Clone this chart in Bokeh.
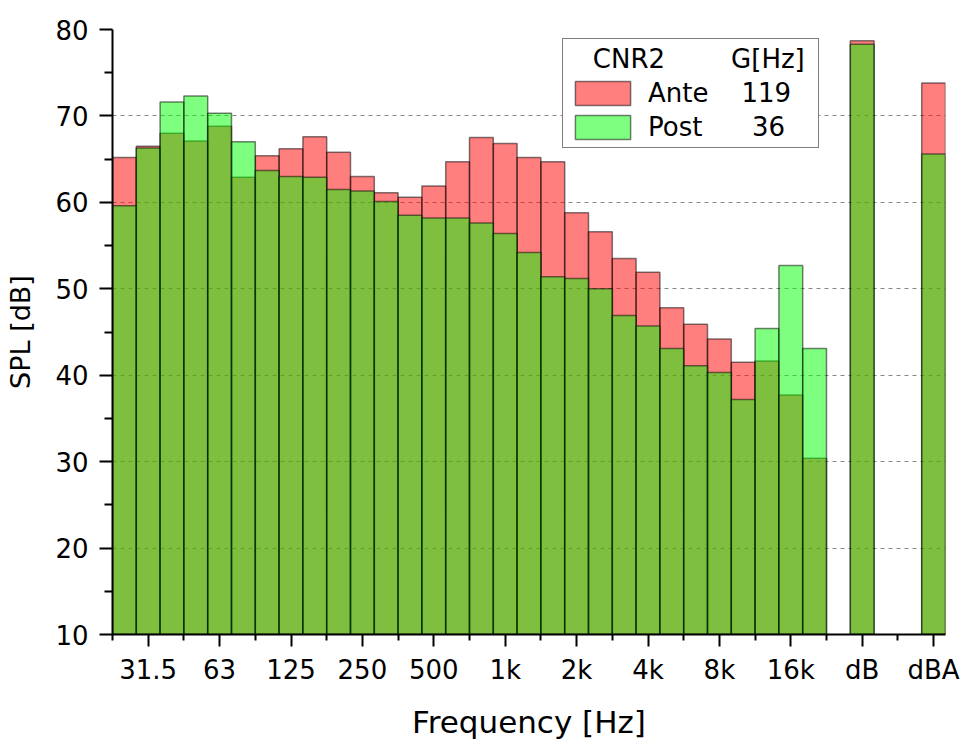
import numpy as np
from bokeh.plotting import figure
from bokeh.models import (Range1d, FixedTicker, Legend, LegendItem, ColumnDataSource)
from bokeh.embed import file_html
from bokeh.resources import INLINE

# ---------------- data ----------------
bands = ["25", "31.5", "40", "50", "63", "80", "100", "125", "160", "200",
         "250", "315", "400", "500", "630", "800", "1k", "1.25k", "1.6k", "2k",
         "2.5k", "3.15k", "4k", "5k", "6.3k", "8k", "10k", "12.5k", "16k", "20k"]
ante = [65.2, 66.5, 68.0, 67.1, 68.8, 62.9, 65.4, 66.2, 67.6, 65.8,
        63.0, 61.1, 60.6, 61.9, 64.7, 67.5, 66.8, 65.2, 64.7, 58.8,
        56.6, 53.5, 51.9, 47.8, 45.9, 44.2, 41.5, 41.65, 37.7, 30.4]
post = [59.6, 66.3, 71.6, 72.3, 70.3, 67.0, 63.7, 63.0, 62.9, 61.5,
        61.3, 60.1, 58.5, 58.2, 58.2, 57.6, 56.4, 54.2, 51.4, 51.2,
        50.0, 46.9, 45.7, 43.1, 41.1, 40.3, 37.2, 45.4, 52.7, 43.1]
totals = ["dB", "dBA"]
ante_tot = [78.7, 73.8]
post_tot = [78.3, 65.6]
labeled_bands = ["31.5", "63", "125", "250", "500", "1k", "2k", "4k", "8k", "16k"]
legend_title = ("CNR2", "G[Hz]")
legend_rows = [("Ante", "119"), ("Post", "36")]
y_ticks = [10, 20, 30, 40, 50, 60, 70, 80]

# ---------------- positions (category slots) ----------------
n = len(bands)
x_bands = list(range(n))
x_tot = [n + 1, n + 4]
x_all = x_bands + x_tot
ante_all = ante + ante_tot
post_all = post + post_tot

src = ColumnDataSource(dict(x=x_all, ante=ante_all, post=post_all))

tick_pos = [bands.index(b) for b in labeled_bands] + x_tot
tick_lab = labeled_bands + totals
minor_pos = [t - 1.5 for t in tick_pos]

NB = "\u00a0"
FONT = "DejaVu Sans"

p = figure(width=960, height=742, output_backend="svg", toolbar_location=None,
           x_range=Range1d(-0.5, n + 4.5), y_range=Range1d(10, 80),
           min_border_left=112, min_border_right=15, min_border_top=29,
           min_border_bottom=106)
p.outline_line_color = None
p.background_fill_color = "white"

r_ante = p.vbar(x="x", top="ante", bottom=0, width=1.0, source=src,
                fill_color="#FF0000", fill_alpha=0.5,
                line_color="black", line_alpha=0.5, line_width=1.5)
r_post = p.vbar(x="x", top="post", bottom=0, width=1.0, source=src,
                fill_color="#00FF00", fill_alpha=0.5,
                line_color="black", line_alpha=0.5, line_width=1.5)

# axes
xa = p.xaxis[0]
xa.ticker = FixedTicker(ticks=tick_pos, minor_ticks=minor_pos)
xa.major_label_overrides = {t: l for t, l in zip(tick_pos, tick_lab)}
xa.axis_label = "Frequency [Hz]"
ya = p.yaxis[0]
ya.ticker = FixedTicker(ticks=y_ticks, minor_ticks=[v + 5 for v in y_ticks[:-1]])
ya.axis_label = "SPL [dB]"

for ax in (xa, ya):
    ax.axis_line_color = "black"
    ax.axis_line_width = 2
    ax.major_tick_line_color = "black"
    ax.major_tick_line_width = 2
    ax.minor_tick_line_color = "black"
    ax.minor_tick_line_width = 2
    ax.major_tick_in = 0
    ax.minor_tick_in = 0
    ax.major_label_text_font = FONT
    ax.major_label_text_font_size = "26px"
    ax.major_label_text_color = "black"
    ax.axis_label_text_font = FONT
    ax.axis_label_text_font_style = "normal"
    ax.axis_label_text_color = "black"

xa.major_tick_out = 12
xa.minor_tick_out = 6
xa.major_label_standoff = 8
xa.axis_label_text_font_size = "31px"
xa.axis_label_standoff = 16
ya.major_tick_out = 13
ya.minor_tick_out = 8
ya.major_label_standoff = 11
ya.axis_label_text_font_size = "27px"
ya.axis_label_standoff = 16

p.xgrid.grid_line_color = None
p.ygrid.ticker = FixedTicker(ticks=y_ticks[1:])
p.ygrid.grid_line_color = "#888888"
p.ygrid.grid_line_dash = "4 4"
p.ygrid.grid_line_width = 1

# legend
title = NB * 3 + legend_title[0] + NB * 8 + legend_title[1] + NB
items = [
    LegendItem(label=legend_rows[0][0] + NB * 4 + legend_rows[0][1], renderers=[r_ante]),
    LegendItem(label=legend_rows[1][0] + NB * 6 + legend_rows[1][1], renderers=[r_post]),
]
leg = Legend(items=items, title=title, location=(450, 486))
leg.title_text_font = FONT
leg.title_text_font_size = "26px"
leg.title_text_font_style = "normal"
leg.title_text_color = "black"
leg.title_standoff = 4
leg.label_text_font = FONT
leg.label_text_font_size = "26px"
leg.label_text_color = "black"
leg.glyph_width = 69
leg.glyph_height = 30
leg.label_height = 30
leg.label_standoff = 11
leg.spacing = 4
leg.padding = 5
leg.margin = 0
leg.border_line_color = "black"
leg.border_line_width = 1.5
leg.background_fill_color = "white"
leg.background_fill_alpha = 1.0
p.add_layout(leg, "center")

open("out.html", "w").write(file_html(p, INLINE))
